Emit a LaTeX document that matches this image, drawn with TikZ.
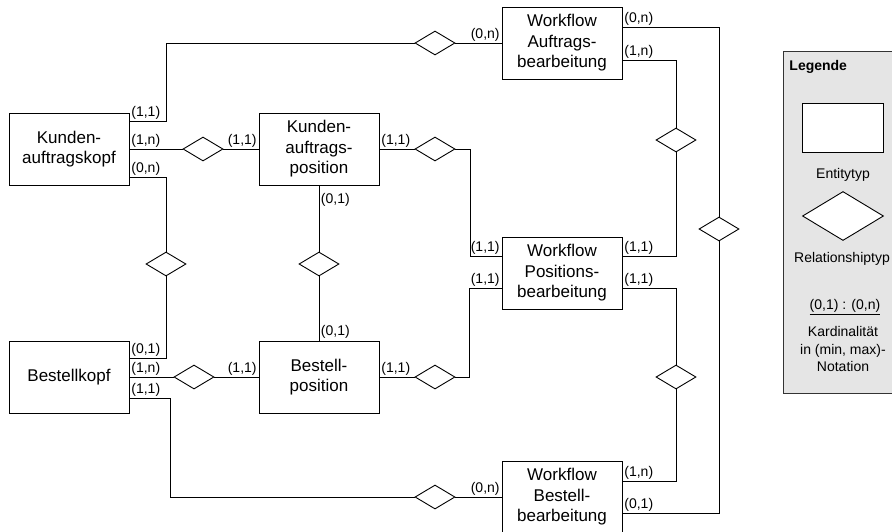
\documentclass[tikz,border=0pt]{standalone}
\usepackage{fontspec}
\setmainfont{Liberation Sans}
\usetikzlibrary{shapes.geometric}

\tikzset{
  entity/.style={draw, rectangle, line width=0.9pt, minimum width=120pt, minimum height=72pt,
    inner sep=0pt, align=center, font=\fontsize{17}{20.5}\selectfont},
  rel/.style={draw, diamond, line width=0.9pt, minimum width=40pt, minimum height=24pt,
    inner sep=0pt, fill=white},
  card/.style={font=\fontsize{14}{15}\selectfont, inner sep=1.5pt},
  legtext/.style={font=\fontsize{14}{17.5}\selectfont, align=center, inner sep=0pt},
}

\begin{document}
\begin{tikzpicture}[x=1pt, y=-1pt, line width=0.9pt]

    % Frame:
    \useasboundingbox (0,0) rectangle (892,531);
    \clip (0,0) rectangle (892,531);

    % Entities:
    \node[entity] (kak) at (69,149) {Kunden-\\auftragskopf};
    \node[entity] (kap) at (319,149) {Kunden-\\auftrags-\\position};
    \node[entity] (bk) at (69,377) {Bestellkopf};
    \node[entity] (bp) at (319,377) {Bestell-\\position};
    \node[entity] (wfa) at (562,43) {Workflow\\Auftrags-\\bearbeitung};
    \node[entity] (wfp) at (562,273) {Workflow\\Positions-\\bearbeitung};
    \node[entity] (wfb) at (562,497) {Workflow\\Bestell-\\bearbeitung};

    % Relationships:
    \node[rel] (d1) at (435,43) {};
    \node[rel] (d2) at (203,149) {};
    \node[rel] (d3) at (166,264) {};
    \node[rel] (d4) at (319,264) {};
    \node[rel] (d5) at (194,377) {};
    \node[rel] (d6) at (435,497) {};
    \node[rel] (d7) at (435,149) {};
    \node[rel] (d8) at (435,377) {};
    \node[rel] (d9) at (676,140) {};
    \node[rel] (d10) at (676,377) {};
    \node[rel] (d11) at (719,229) {};

    % Connectors:
    \draw ([yshift=28pt]kak.east) node[card,above right] {(1,1)} -- ++(37,0) |- (d1.west);
    \draw (d1.east) -- (wfa.west) node[card,above left] {(0,n)};

    \draw (kak.east) node[card,above right] {(1,n)} -- (d2.west);
    \draw (d2.east) -- (kap.west) node[card,above left] {(1,1)};

    \draw ([yshift=-28pt]kak.east) node[card,above right] {(0,n)} -| (d3.north);
    \draw (d3.south) |- ([yshift=19pt]bk.east) node[card,above right] {(0,1)};

    \draw (kap.south) node[card,below right,yshift=-6pt] {(0,1)} -- (d4.north);
    \draw (d4.south) -- (bp.north) node[card,above right] {(0,1)};

    \draw (bk.east) node[card,above right] {(1,n)} -- (d5.west);
    \draw (d5.east) -- (bp.west) node[card,above left] {(1,1)};

    \draw ([yshift=-21pt]bk.east) node[card,above right] {(1,1)} -- ++(41,0) |- (d6.west);
    \draw (d6.east) -- (wfb.west) node[card,above left] {(0,n)};

    \draw (kap.east) node[card,above right] {(1,1)} -- (d7.west);
    \draw (d7.east) -- ++(15,0) |- ([yshift=17pt]wfp.west) node[card,above left] {(1,1)};

    \draw (bp.east) node[card,above right] {(1,1)} -- (d8.west);
    \draw (d8.east) -- ++(14,0) |- ([yshift=-15pt]wfp.west) node[card,above left] {(1,1)};

    \draw ([yshift=-17pt]wfa.east) node[card,above right] {(1,n)} -| (d9.north);
    \draw (d9.south) |- ([yshift=17pt]wfp.east) node[card,above right] {(1,1)};

    \draw ([yshift=-15pt]wfp.east) node[card,above right] {(1,1)} -| (d10.north);
    \draw (d10.south) |- ([yshift=16pt]wfb.east) node[card,above right] {(1,n)};

    \draw ([yshift=16pt]wfa.east) node[card,above right] {(0,n)} -| (d11.north);
    \draw (d11.south) |- ([yshift=-16pt]wfb.east) node[card,above right] {(0,1)};

    % Legend:
    \node[draw=black!80, fill=gray!20, minimum width=120pt, minimum height=342pt,
      anchor=north west] (legend) at (783,51) {};
    \node[legtext, anchor=west, font=\fontsize{14}{15}\selectfont\bfseries] (legtitle) at (789,67) {Legende};
    \node[draw, fill=white, minimum width=81pt, minimum height=49pt] (legent) at (843,127.5) {};
    \node[legtext] (legenttext) at (843,175) {Entitytyp};
    \node[rel, minimum width=81pt, minimum height=49pt] (legrel) at (843,216) {};
    \node[legtext] (legreltext) at (842,259) {Relationshiptyp};
    \node[legtext] (legcard) at (845,307) {\underline{(0,1) : (0,n)}};
    \node[legtext] (legcardtext) at (843,349) {Kardinalität\\in (min, max)-\\Notation};
\end{tikzpicture}
\end{document}
